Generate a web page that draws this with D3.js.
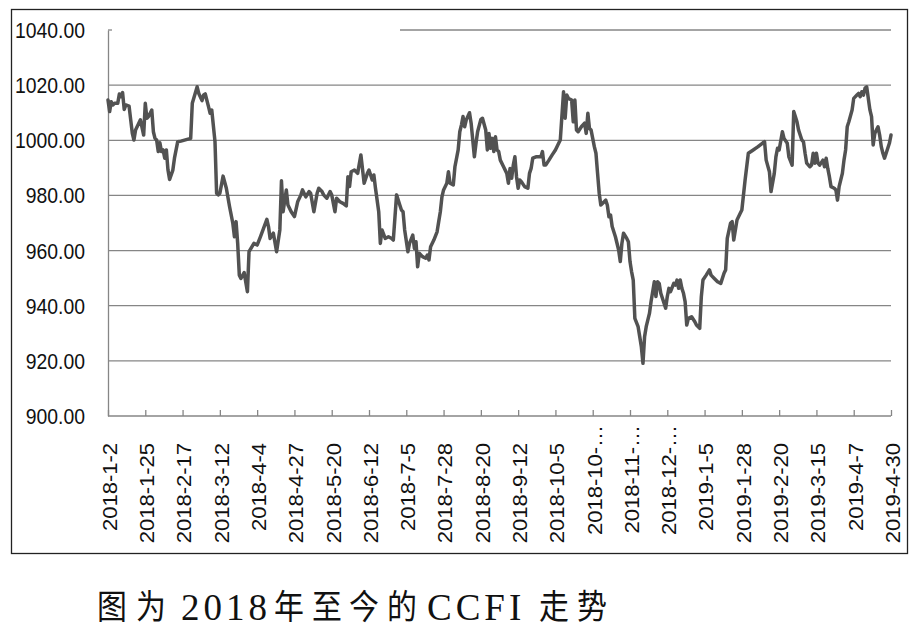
<!DOCTYPE html>
<html><head><meta charset="utf-8">
<script src="https://cdn.jsdelivr.net/npm/d3@7"></script>
<style>html,body{margin:0;padding:0;background:#fff;}</style>
</head><body>
<svg id="chart" width="920" height="640"></svg>
<script>
const dates = [
"2018-1-2","2018-1-3","2018-1-4","2018-1-5","2018-1-6","2018-1-8","2018-1-9","2018-1-10","2018-1-11","2018-1-12","2018-1-13","2018-1-15","2018-1-17","2018-1-18","2018-1-19","2018-1-21","2018-1-22","2018-1-24","2018-1-25","2018-1-26","2018-1-27","2018-1-29","2018-1-30","2018-1-31",
"2018-2-1","2018-2-2","2018-2-3","2018-2-4","2018-2-5","2018-2-6","2018-2-7","2018-2-8","2018-2-9","2018-2-11","2018-2-12","2018-2-14","2018-2-16","2018-2-22","2018-2-23","2018-2-26","2018-2-27",
"2018-3-1","2018-3-2","2018-3-3","2018-3-5","2018-3-6","2018-3-7","2018-3-9","2018-3-10","2018-3-11","2018-3-12","2018-3-14","2018-3-16","2018-3-18","2018-3-20","2018-3-21","2018-3-22","2018-3-23","2018-3-24","2018-3-25","2018-3-27","2018-3-29","2018-3-30",
"2018-4-2","2018-4-4","2018-4-6","2018-4-8","2018-4-10","2018-4-11","2018-4-12","2018-4-14","2018-4-16","2018-4-18","2018-4-19","2018-4-20","2018-4-22","2018-4-23","2018-4-25","2018-4-27","2018-4-29",
"2018-5-1","2018-5-2","2018-5-4","2018-5-6","2018-5-7","2018-5-9","2018-5-11","2018-5-12","2018-5-14","2018-5-15","2018-5-17","2018-5-19","2018-5-20","2018-5-22","2018-5-23","2018-5-25","2018-5-27","2018-5-29","2018-5-30","2018-5-31",
"2018-6-1","2018-6-3","2018-6-5","2018-6-7","2018-6-9","2018-6-11","2018-6-12","2018-6-14","2018-6-15","2018-6-16","2018-6-18","2018-6-19","2018-6-20","2018-6-22","2018-6-24","2018-6-26","2018-6-27","2018-6-29",
"2018-7-1","2018-7-2","2018-7-3","2018-7-4","2018-7-6","2018-7-7","2018-7-9","2018-7-10","2018-7-11","2018-7-12","2018-7-13","2018-7-15","2018-7-17","2018-7-18","2018-7-19","2018-7-20","2018-7-22","2018-7-24","2018-7-25","2018-7-26","2018-7-27","2018-7-28","2018-7-30","2018-7-31",
"2018-8-1","2018-8-3","2018-8-4","2018-8-6","2018-8-7","2018-8-8","2018-8-9","2018-8-10","2018-8-11","2018-8-13","2018-8-14","2018-8-16","2018-8-17","2018-8-18","2018-8-20","2018-8-21","2018-8-23","2018-8-24","2018-8-25","2018-8-26","2018-8-27","2018-8-28","2018-8-29","2018-8-30","2018-8-31",
"2018-9-1","2018-9-3","2018-9-5","2018-9-6","2018-9-7","2018-9-8","2018-9-9","2018-9-10","2018-9-11","2018-9-12","2018-9-13","2018-9-14","2018-9-16","2018-9-18","2018-9-19","2018-9-20","2018-9-21","2018-9-23","2018-9-26","2018-9-27","2018-9-28","2018-9-29",
"2018-10-1","2018-10-3","2018-10-5","2018-10-7","2018-10-8","2018-10-10","2018-10-11","2018-10-12","2018-10-13","2018-10-15","2018-10-16","2018-10-17","2018-10-18","2018-10-19","2018-10-21","2018-10-23","2018-10-24","2018-10-25","2018-10-26","2018-10-27","2018-10-28","2018-10-29","2018-10-30","2018-10-31",
"2018-11-1","2018-11-2","2018-11-3","2018-11-5","2018-11-6","2018-11-7","2018-11-8","2018-11-9","2018-11-11","2018-11-13","2018-11-14","2018-11-15","2018-11-16","2018-11-18","2018-11-19","2018-11-20","2018-11-21","2018-11-22","2018-11-23","2018-11-25","2018-11-26","2018-11-27","2018-11-28","2018-11-29","2018-11-30",
"2018-12-2","2018-12-3","2018-12-5","2018-12-6","2018-12-7","2018-12-8","2018-12-9","2018-12-11","2018-12-12","2018-12-13","2018-12-14","2018-12-15","2018-12-17","2018-12-18","2018-12-19","2018-12-20","2018-12-21","2018-12-22","2018-12-23","2018-12-24","2018-12-25","2018-12-26","2018-12-28","2018-12-30","2018-12-31",
"2019-1-2","2019-1-3","2019-1-4","2019-1-6","2019-1-8","2019-1-9","2019-1-11","2019-1-13","2019-1-15","2019-1-17","2019-1-18","2019-1-19","2019-1-21","2019-1-22","2019-1-23","2019-1-25","2019-1-27","2019-1-28","2019-1-30",
"2019-2-1","2019-2-4","2019-2-7","2019-2-10","2019-2-11","2019-2-12","2019-2-14","2019-2-15","2019-2-17","2019-2-18","2019-2-19","2019-2-20","2019-2-22","2019-2-23","2019-2-25","2019-2-26","2019-2-28",
"2019-3-1","2019-3-2","2019-3-3","2019-3-4","2019-3-6","2019-3-7","2019-3-8","2019-3-9","2019-3-11","2019-3-12","2019-3-13","2019-3-14","2019-3-15","2019-3-16","2019-3-17","2019-3-19","2019-3-20","2019-3-21","2019-3-22","2019-3-23","2019-3-24","2019-3-26","2019-3-27","2019-3-28","2019-3-29","2019-3-31",
"2019-4-1","2019-4-2","2019-4-3","2019-4-4","2019-4-6","2019-4-7","2019-4-9","2019-4-10","2019-4-11","2019-4-12","2019-4-13","2019-4-14","2019-4-15","2019-4-17","2019-4-18","2019-4-19","2019-4-20","2019-4-21","2019-4-22","2019-4-23","2019-4-24","2019-4-25","2019-4-26","2019-4-27","2019-4-28","2019-4-29","2019-4-30"
];
const ccfi = [
1014.6,1010.4,1014.0,1012.8,1013.4,1013.4,1016.8,1015.8,1017.3,1011.2,1012.8,1012.4,1002.5,1000.1,1003.7,1006.2,1007.4,1001.9,1013.4,1008.0,1008.6,1011.0,1003.1,1000.7,
1000.1,995.9,999.1,995.9,996.5,993.5,996.5,989.2,985.8,989.2,993.5,999.5,999.7,1000.7,1013.4,1019.4,1017.0,
1014.4,1016.4,1016.8,1012.2,1009.8,1011.0,999.5,980.8,980.2,980.8,987.0,982.6,975.9,969.9,965.0,970.5,962.6,951.1,949.9,952.0,945.1,959.6,
962.6,962.0,965.0,968.1,971.3,968.7,964.4,966.3,959.6,967.5,985.3,974.1,982.0,976.5,974.1,972.3,977.7,
980.2,982.0,979.5,981.4,980.8,974.1,980.8,982.6,981.4,980.2,979.0,981.4,980.2,974.1,979.0,977.7,977.1,976.2,986.8,983.2,
988.6,989.2,988.0,994.7,984.4,988.0,989.2,985.6,987.4,982.6,974.1,962.6,967.5,964.4,965.0,964.4,963.8,980.2,
976.5,974.7,974.1,967.5,959.6,962.6,965.6,960.8,963.2,954.1,959.0,957.8,957.2,958.4,956.6,961.4,963.8,966.8,970.5,974.1,979.5,982.0,984.4,988.6,
984.4,983.8,990.4,996.5,1003.1,1005.5,1008.6,1004.9,1007.4,1010.0,1006.2,994.0,998.9,1003.1,1007.6,1008.0,1003.7,996.5,1002.5,997.1,1000.7,995.9,1001.3,996.5,995.9,
992.8,990.4,988.0,984.4,989.8,986.2,991.0,994.0,986.8,982.6,985.6,985.0,983.2,982.6,988.0,989.8,993.5,994.0,994.0,995.9,991.0,991.0,
992.8,994.7,996.5,998.9,1000.1,1017.6,1008.0,1016.4,1015.2,1014.6,1006.7,1014.6,1003.7,1003.1,1004.9,1006.2,1002.5,1009.8,1004.3,1003.7,1000.7,997.7,995.3,988.0,
980.8,976.5,977.1,978.3,976.5,972.3,972.9,968.7,965.0,960.2,956.0,962.6,966.3,964.4,963.2,956.0,952.3,949.3,935.4,932.4,928.8,925.1,919.1,928.8,932.4,
937.2,941.5,948.7,943.3,948.7,948.1,944.5,940.9,939.1,943.3,946.3,945.1,948.1,947.5,949.3,946.3,949.3,946.3,944.5,941.5,933.0,935.4,936.0,934.2,933.0,
931.8,943.3,949.3,951.1,953.0,951.1,949.9,948.7,948.1,951.8,953.0,964.4,969.9,970.5,963.8,971.1,973.5,974.7,985.6,
995.3,996.5,997.7,999.1,999.5,992.8,988.6,981.4,988.0,994.0,997.1,996.5,1003.1,1000.7,998.9,994.0,991.0,
1010.4,1008.6,1006.7,1003.7,1000.1,999.5,995.3,991.7,990.4,991.0,995.3,991.7,995.3,991.7,991.0,992.8,990.4,993.5,989.8,986.8,983.2,982.6,982.0,978.3,983.2,988.0,
992.8,996.5,1004.9,1006.7,1011.0,1015.2,1016.4,1017.0,1015.8,1017.6,1016.4,1018.9,1019.4,1011.0,1008.6,998.3,1002.5,1003.7,1004.9,1001.9,997.7,995.3,993.5,995.3,997.1,998.9,1001.9
];
const xTickLabels = ["2018-1-2","2018-1-25","2018-2-17","2018-3-12","2018-4-4","2018-4-27","2018-5-20","2018-6-12","2018-7-5","2018-7-28","2018-8-20","2018-9-12","2018-10-5","2018-10-28","2018-11-20","2018-12-13","2019-1-5","2019-1-28","2019-2-20","2019-3-15","2019-4-7","2019-4-30"];
const yTicks = [900,920,940,960,980,1000,1020,1040];
const titleParts = ["图","为","2018","年","至","今","的","CCFI","走","势"];

const parse = d3.timeParse("%Y-%m-%d");
const data = dates.map((d,i)=>({date:parse(d), value:ccfi[i]}));

const svg = d3.select("#chart");
const L = 108, R = 891, T = 30, B = 416;

svg.append("rect").attr("x",0).attr("y",0).attr("width",920).attr("height",640).attr("fill","#fff");
svg.append("rect").attr("x",11.5).attr("y",9.5).attr("width",896).attr("height",544)
  .attr("fill","none").attr("stroke","#222").attr("stroke-width",1.3);

const x = d3.scaleTime().domain([parse(xTickLabels[0]), parse(xTickLabels[xTickLabels.length-1])]).range([L,R]);
const y = d3.scaleLinear().domain([900,1040]).range([B,T]);

// gridlines
const grid = svg.append("g");
const gridColor = "#868686";
yTicks.filter(v=>v>900).forEach(v=>{
  const segs = v===1040 ? [[L,L+4],[400,R]] : [[L,R]];
  segs.forEach(s=>grid.append("line").attr("x1",s[0]).attr("x2",s[1]).attr("y1",y(v)).attr("y2",y(v))
      .attr("stroke",gridColor).attr("stroke-width",1.3));
});

// y axis
const yAxis = d3.axisLeft(y).tickValues(yTicks).tickSize(0).tickFormat("");
const gy = svg.append("g").attr("transform",`translate(${L},0)`).call(yAxis);
gy.select(".domain").attr("stroke",gridColor).attr("stroke-width",1.3);
const fmt = d3.format(".2f");
svg.append("g").selectAll("text").data(yTicks).join("text")
  .attr("transform",d=>`translate(85,${y(d)}) scale(0.88,1)`)
  .attr("text-anchor","end").attr("dy","0.36em")
  .attr("font-family","'Liberation Sans', Arial, sans-serif").attr("font-size",22).attr("fill","#111")
  .text(d=>fmt(d));

// x axis
const xAxis = d3.axisBottom(x).tickValues(xTickLabels.map(parse)).tickSize(-6).tickFormat("");
const gx = svg.append("g").attr("transform",`translate(0,${B})`).call(xAxis);
gx.select(".domain").attr("stroke",gridColor).attr("stroke-width",1.3).attr("d",`M${L},0H${R}`);
gx.selectAll(".tick line").attr("stroke",gridColor).attr("stroke-width",1.3);

const labG = svg.append("g");
xTickLabels.forEach(s=>{
  const long = s.length > 9;
  const txt = long ? s.slice(0,8) + "…" : s;
  const px = x(parse(s)) + 2;
  const py = long ? 425 : 443;
  labG.append("text")
    .attr("transform",`translate(${px},${py}) rotate(-90) scale(1,0.88)`)
    .attr("text-anchor","end").attr("dy","0.35em")
    .attr("font-family","'Liberation Sans', Arial, sans-serif").attr("font-size",22).attr("fill","#111")
    .text(txt);
});

// line
const line = d3.line().x(d=>x(d.date)).y(d=>y(d.value));
svg.append("path").datum(data).attr("d",line).attr("fill","none")
  .attr("stroke","#525252").attr("stroke-width",3.5).attr("stroke-linejoin","round").attr("stroke-linecap","round");

// title (caption below chart)
const titleX = [97,136,181,274,312,349,387,427,539,577];
const tg = svg.append("g");
titleParts.forEach((t,i)=>{
  const latin = /^[0-9A-Z]+$/.test(t);
  const el = tg.append("text")
    .attr("transform", latin ? `translate(${titleX[i]},620)` : `translate(${titleX[i]},619) scale(0.88,1)`)
    .attr("fill","#111")
    .attr("font-family", latin ? "'Liberation Serif', serif" : "'Noto Sans CJK SC', sans-serif")
    .attr("font-size", latin ? 37 : 34)
    .text(t);
  if (latin) el.attr("letter-spacing", 4);
});
</script>
</body></html>
